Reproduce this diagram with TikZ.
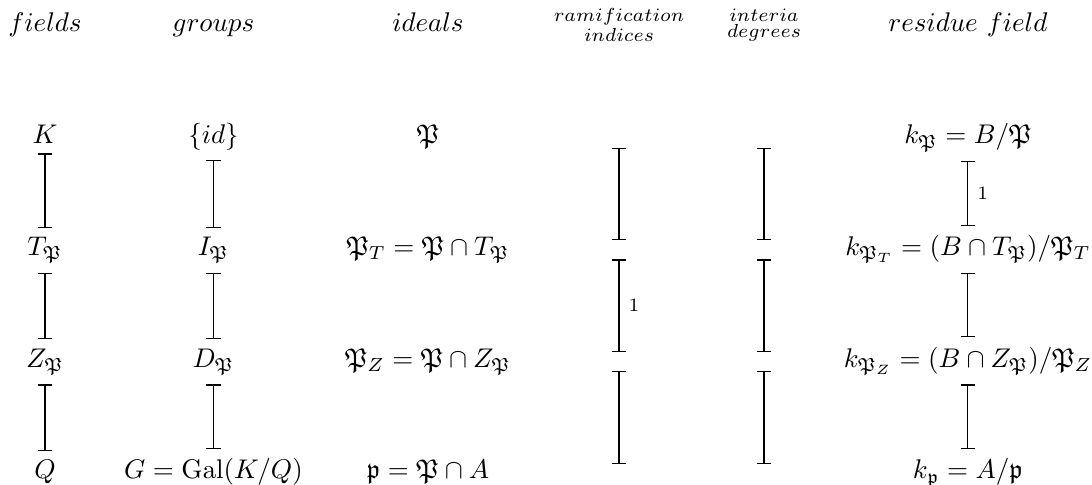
\documentclass[tikz,border=0pt]{standalone}
\usepackage{tikz}
\usepackage{amsmath,amssymb}
\usetikzlibrary{arrows.meta,positioning}
\tikzset{
  cell/.style={anchor=base,inner sep=3.33pt},
  gap/.style={inner sep=3.33pt},
  barline/.style={{Bar[width=5.2pt]}-{Bar[width=5.2pt]},line width=0.4pt},
  lbl/.style={right,font=\scriptsize,inner sep=3.33pt}
}

\begin{document}
\begin{tikzpicture}
\useasboundingbox (0,0) rectangle (14.215,6.313);
\node[cell] (hfields) at (0.586,5.903) {$fields$};
\node[cell] (hgroups) at (2.779,5.903) {$groups$};
\node[cell] (hideals) at (5.571,5.903) {$ideals$};
\node[cell] (hram) at (8.058,5.903) {$\substack{ramification\\ indices}$};
\node[cell] (hint) at (9.945,5.903) {$\substack{interia\\ degrees}$};
\node[cell] (hres) at (12.600,5.903) {$residue\ field$};

\node[cell] (K) at (0.586,4.439) {$K$};
\node[cell] (T) at (0.586,2.985) {$T_{\mathfrak{P}}$};
\node[cell] (Z) at (0.586,1.532) {$Z_{\mathfrak{P}}$};
\node[cell] (Q) at (0.586,0.078) {$Q$};

\node[cell] (e) at (2.779,4.439) {$\{id\}$};
\node[cell] (I) at (2.779,2.985) {$I_{\mathfrak{P}}$};
\node[cell] (D) at (2.779,1.532) {$D_{\mathfrak{P}}$};
\node[cell] (G) at (2.779,0.078) {$G=\mathrm{Gal}(K/Q)$};

\node[cell] (P) at (5.571,4.439) {$\mathfrak{P}$};
\node[cell] (PT) at (5.571,2.985) {$\mathfrak{P}_T=\mathfrak{P}\cap T_{\mathfrak{P}}$};
\node[cell] (PZ) at (5.571,1.532) {$\mathfrak{P}_Z=\mathfrak{P}\cap Z_{\mathfrak{P}}$};
\node[cell] (p) at (5.571,0.078) {$\mathfrak{p}=\mathfrak{P}\cap A$};

\node[cell] (k) at (12.600,4.439) {$k_{\mathfrak{P}}=B/\mathfrak{P}$};
\node[cell] (kT) at (12.600,2.985) {$k_{\mathfrak{P}_T}=(B\cap T_{\mathfrak{P}})/\mathfrak{P}_T$};
\node[cell] (kZ) at (12.600,1.532) {$k_{\mathfrak{P}_Z}=(B\cap Z_{\mathfrak{P}})/\mathfrak{P}_Z$};
\node[cell] (kp) at (12.600,0.078) {$k_{\mathfrak{p}}=A/\mathfrak{p}$};

\foreach \n/\y in {1/4.514,2/3.060,3/1.607,4/0.153} {
  \node[gap] (r\n) at (8.058,\y) {};
  \node[gap] (d\n) at (9.945,\y) {};
}

\foreach \a/\b in {K/T,T/Z,Z/Q,e/I,I/D,D/G,r1/r2,r3/r4,d1/d2,d2/d3,d3/d4,kT/kZ,kZ/kp}
  \draw[barline] (\a) -- (\b);
\draw[barline] (r2) -- node[lbl] {$1$} (r3);
\draw[barline] (k) -- node[lbl] {$1$} (kT);
\end{tikzpicture}
\end{document}
